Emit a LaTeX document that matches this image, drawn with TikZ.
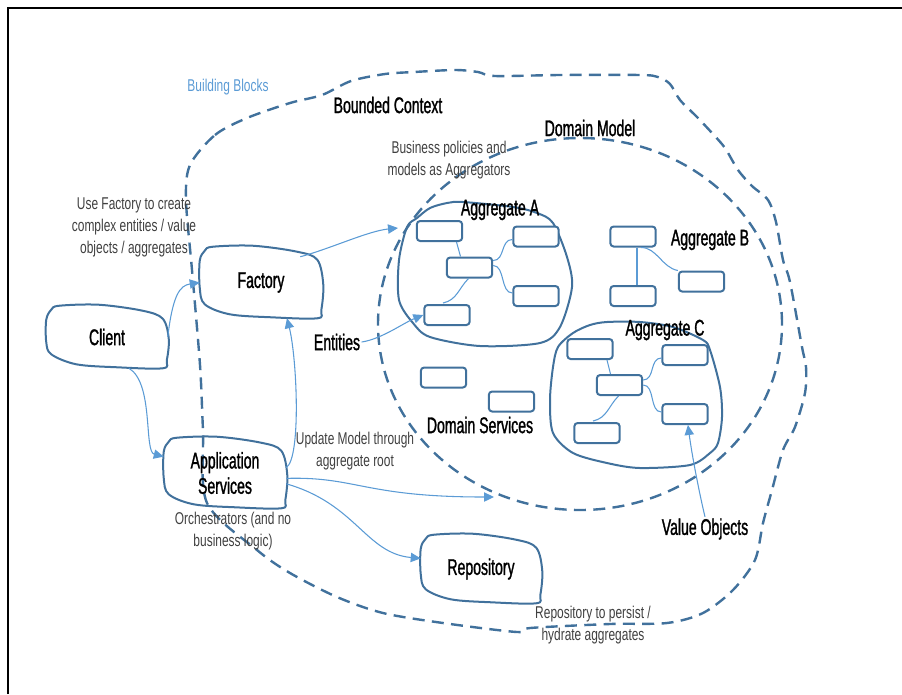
\documentclass[tikz,border=0pt]{standalone}
\usepackage{fontspec}
\setmainfont{Liberation Sans}[FakeStretch=0.7]
\newfontfamily\lblfont{Liberation Sans}[FakeStretch=0.62, FakeBold=1.2]
\usetikzlibrary{arrows.meta,calc}
\definecolor{dkblue}{HTML}{41719C}
\definecolor{ltblue}{HTML}{5B9BD5}
\definecolor{notegray}{HTML}{404040}
\tikzset{
  blobline/.style={draw=dkblue, line width=1.5pt},
  blobnode/.style={inner sep=0pt, font=\lblfont\fontsize{17}{19}\selectfont, align=center},
  smallbox/.style={draw=dkblue, line width=1.5pt, fill=white, rounded corners=2.5pt, minimum width=34pt, minimum height=15pt, inner sep=0pt},
  dashblob/.style={draw=dkblue, line width=1.8pt, dash pattern=on 9pt off 5.5pt},
  link/.style={draw=ltblue, line width=0.8pt},
  arr/.style={link, -{Triangle[length=7.5pt,width=7pt]}},
  lbl/.style={font=\lblfont\fontsize{17}{19}\selectfont, text=black, inner sep=1pt},
  note/.style={font=\fontsize{12.8}{16.5}\selectfont, text=notegray, align=center, inner sep=1pt},
  bbnote/.style={font=\fontsize{12.8}{16.5}\selectfont, text=ltblue, inner sep=1pt},
}
\newcommand\drawblob[1]{%
  \path ($(#1.north west)+(13,0)$) coordinate (#1-1)
        ($(#1.north)+(-8,-1)$) coordinate (#1-2)
        ($(#1.north east)+(-25,5)$) coordinate (#1-3)
        ($(#1.north east)+(-5,13)$) coordinate (#1-4)
        ($(#1.east)+(1,2)$) coordinate (#1-5)
        ($(#1.south east)+(-1,-8)$) coordinate (#1-6)
        ($(#1.south east)+(-5,0)$) coordinate (#1-7)
        ($(#1.south)+(10,-1)$) coordinate (#1-8)
        ($(#1.south west)+(30,-4)$) coordinate (#1-9)
        ($(#1.south west)+(5,-14)$) coordinate (#1-10)
        ($(#1.west)+(0,5)$) coordinate (#1-11)
        ($(#1.north west)+(0,14)$) coordinate (#1-12)
        ($(#1.north west)+(5,4)$) coordinate (#1-13);
  \draw[blobline] plot[smooth cycle, tension=0.55] coordinates {(#1-1) (#1-2) (#1-3) (#1-4) (#1-5) (#1-6) (#1-7) (#1-8) (#1-9) (#1-10) (#1-11) (#1-12) (#1-13)};}
\begin{document}
\begin{tikzpicture}[x=0.75pt,y=-0.75pt]
\useasboundingbox (0,0) rectangle (902,694);
% frame
\draw[line width=2.2pt, black] (8,694) -- (8,8) -- (902,8);

% bounded context
\draw[dashblob] plot[smooth cycle, tension=0.5] coordinates {
 (190,165) (215,135) (247,118) (290,103) (322,95) (351,81) (385,74) (414,72) (455,70) (478,72) (495,76) (560,75) (640,75) (658,77) (670,84) (680,100) (697,117) (712,133) (725,148) (738,170) (752,186) (768,200) (776,222) (783,260) (790,282) (802,347) (806,367) (805,393) (795,427) (783,450) (772,490) (763,523) (755,560) (733,590) (703,613) (667,623) (610,624) (530,628) (517,632) (443,623) (383,613) (337,597) (290,573) (257,550) (207,503) (203,430) (200,365) (192,270) (186,200)};

% domain model
\draw[dashblob] (580,324) ellipse [x radius=151.5pt, y radius=139.5pt];

% aggregate A blob
\draw[blobline] plot[smooth cycle, tension=0.5] coordinates {
 (417,218) (430,208) (447,203) (463,202) (513,207) (537,213) (553,223) (567,257) (572,287) (560,327) (540,343) (480,346) (430,337) (413,323) (399,300) (399,260) (407,227)};

% aggregate C blob
\draw[blobline] plot[smooth cycle, tension=0.5] coordinates {
 (573,333) (590,325) (607,322) (640,322) (673,327) (703,340) (710,350) (720,387) (722,417) (718,443) (710,453) (690,465) (640,468) (607,463) (573,453) (553,433) (550,400) (553,367) (558,347)};

% blob nodes
\node[blobnode, minimum width=90.75pt, minimum height=46.5pt] (client) at (107,337) {Client};
\node[blobnode, minimum width=91.5pt, minimum height=53.25pt] (factory) at (261,282.5) {Factory};
\node[blobnode, minimum width=91.5pt, minimum height=52.5pt] (appsvc) at (225,473) {Application\\Services};
\node[blobnode, minimum width=90pt, minimum height=51pt] (repo) at (481,569) {Repository};
\drawblob{client}
\drawblob{factory}
\drawblob{appsvc}
\drawblob{repo}

% small boxes
\node[smallbox] (a1) at (439.5,231) {};
\node[smallbox] (a2) at (536,236.5) {};
\node[smallbox] (a3) at (469.5,267.5) {};
\node[smallbox] (a4) at (536,296) {};
\node[smallbox] (a5) at (447,315) {};
\node[smallbox] (b1) at (633,236.5) {};
\node[smallbox] (b2) at (633,296) {};
\node[smallbox] (b3) at (701.5,281.5) {};
\node[smallbox] (c1) at (590,349) {};
\node[smallbox] (c2) at (685,355) {};
\node[smallbox] (c3) at (619.5,385) {};
\node[smallbox] (c4) at (685,414) {};
\node[smallbox] (c5) at (597,433) {};
\node[smallbox] (d1) at (443.5,377.5) {};
\node[smallbox] (d2) at (511.5,401.5) {};

% links within aggregates
\draw[link] ($(a1.south)+(17,0)$) -- ($(a3.north)+(-9,0)$);
\draw[link] ($(a3.east)+(0,-7)$) .. controls +(12,0) and +(-12,0) .. ($(a2.west)+(0,3)$);
\draw[link] ($(a3.east)+(0,-2)$) .. controls +(12,0) and +(-12,0) .. ($(a4.west)+(0,-3)$);
\draw[link] ($(a3.south)+(-1,0)$) .. controls +(-10,10) and +(14,-3) .. ($(a5.north)+(-4,-1)$);
\draw[link] ($(b1.south)+(4,0)$) -- ($(b2.north)+(4,0)$);
\draw[link] ($(b1.south)+(8,0)$) .. controls +(16,0) and +(-16,-3) .. (b3.north west);
\draw[link] ($(c1.south)+(17,0)$) -- ($(c3.north)+(-9,0)$);
\draw[link] ($(c3.east)+(0,-5)$) .. controls +(12,0) and +(-12,0) .. ($(c2.west)+(0,3)$);
\draw[link] ($(c3.east)+(0,0)$) .. controls +(12,0) and +(-12,0) .. ($(c4.west)+(0,-2)$);
\draw[link] ($(c3.south)+(-1,0)$) .. controls +(-10,10) and +(14,-3) .. ($(c5.north)+(-4,-1)$);

% labels
\node[bbnote] (bb) at (228,87) {Building Blocks};
\node[lbl] (bc) at (388,105) {Bounded Context};
\node[lbl] (dm) at (590,128) {Domain Model};
\node[note] (bp) at (449,160) {Business policies and\\models as Aggregators};
\node[lbl] (agA) at (500,210) {Aggregate A};
\node[lbl] (agB) at (710,240) {Aggregate B};
\node[lbl] (agC) at (665,330) {Aggregate C};
\node[note] (uf) at (134,227) {Use Factory to create\\complex entities / value\\objects / aggregates};
\node[lbl] (entities) at (337,342) {Entities};
\node[lbl] (ds) at (480,425) {Domain Services};
\node[note] (um) at (355,451) {Update Model through\\aggregate root};
\node[note] (orch) at (233,531) {Orchestrators (and no\\business logic)};
\node[lbl] (valobj) at (705,529) {Value Objects};
\node[note] (rp) at (593,625) {Repository to persist /\\hydrate aggregates};

% free ends
\coordinate (aggAin) at (398,228);
\coordinate (dmin) at (494,497);

% arrows
\draw[arr] (client.east) .. controls +(5,-42) and +(-20,3) .. (factory.west);
\draw[arr] ($(client.south)+(22,0)$) .. controls +(25,15) and +(-20,-5) .. (appsvc.165);
\draw[arr] (appsvc.5) .. controls +(15,-10) and +(10,40) .. (factory.-54);
\draw[arr] ($(factory.north east)+(-22,10)$) .. controls +(30,-8) and +(-30,3) .. (aggAin);
\draw[arr] (entities.east) .. controls +(20,-3) and +(-20,8) .. (a5.west);
\draw[arr] (appsvc.-5) .. controls +(70,-2) and +(-130,0) .. (dmin);
\draw[arr] (appsvc.-10) .. controls +(70,20) and +(-55,-5) .. (repo.170);
\draw[arr] (valobj.north) .. controls +(-6,-25) and +(4,30) .. (c4.-75);
\end{tikzpicture}
\end{document}
